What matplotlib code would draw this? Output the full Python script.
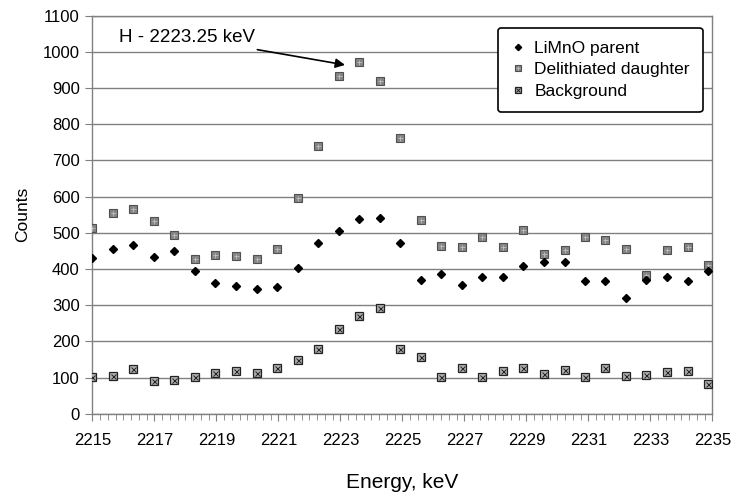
import numpy as np
import matplotlib
matplotlib.use('Agg')
import matplotlib.pyplot as plt
from matplotlib.ticker import MultipleLocator
from matplotlib.legend_handler import HandlerTuple

plt.rcParams['font.family'] = ['Liberation Sans', 'DejaVu Sans']

# channel energies (keV)
energy = [2215.00, 2215.66, 2216.32, 2216.99, 2217.65, 2218.31, 2218.97, 2219.63,
          2220.30, 2220.96, 2221.62, 2222.28, 2222.94, 2223.61, 2224.27, 2224.93,
          2225.59, 2226.25, 2226.92, 2227.58, 2228.24, 2228.90, 2229.56, 2230.23,
          2230.89, 2231.55, 2232.21, 2232.87, 2233.54, 2234.20, 2234.86]

parent = [430, 455, 465, 432, 450, 394, 361, 353, 344, 351, 404, 472, 506, 539, 542, 472,
          370, 387, 357, 378, 377, 408, 420, 419, 366, 366, 320, 369, 377, 367, 394]

daughter = [512, 555, 565, 533, 495, 428, 438, 437, 428, 455, 596, 740, 933, 972, 919, 761,
            535, 464, 462, 487, 462, 508, 441, 452, 489, 480, 455, 382, 452, 462, 412]

background = [102, 104, 123, 91, 93, 101, 113, 119, 113, 125, 149, 179, 235, 271, 293, 178,
              158, 102, 127, 102, 118, 127, 110, 121, 102, 127, 105, 107, 116, 119, 81]

xticks = [2215, 2217, 2219, 2221, 2223, 2225, 2227, 2229, 2231, 2233, 2235]

fig = plt.figure(figsize=(7.38, 4.97), dpi=100)
ax = fig.add_axes([0.1251, 0.1676, 0.8403, 0.8008])

h1, = ax.plot(energy, parent, ls='none', marker='D', ms=4.0, color='black', zorder=4)
d_sq, = ax.plot(energy, daughter, ls='none', marker='s', ms=5.2, mfc='#858585',
                mec='#505050', mew=0.8, zorder=3)
d_x, = ax.plot(energy, daughter, ls='none', marker='+', ms=3.6, mec='#c0c0c0', mew=0.6, zorder=3)
b_sq, = ax.plot(energy, background, ls='none', marker='s', ms=5.2, mfc='#b0b0b0',
                mec='#222222', mew=0.9, zorder=3)
b_x, = ax.plot(energy, background, ls='none', marker='x', ms=3.6, mec='#222222', mew=0.7, zorder=3)

ax.set_xlim(2215, 2235)
ax.set_ylim(0, 1100)
ax.set_xticks(xticks)
ax.xaxis.set_minor_locator(MultipleLocator(0.25))
ax.yaxis.set_major_locator(MultipleLocator(100))

ax.yaxis.grid(True, color='#808080', lw=1)
ax.set_axisbelow(True)
for s in ax.spines.values():
    s.set_color('#808080')
    s.set_linewidth(1)

ax.tick_params(axis='both', which='both', direction='out', color='#808080', labelsize=12)
ax.tick_params(axis='x', which='major', length=5, pad=9)
ax.tick_params(axis='x', which='minor', length=4)
ax.tick_params(axis='y', length=5, pad=4)

ax.set_xlabel('Energy, keV', fontsize=15, labelpad=18)
ax.set_ylabel('Counts', fontsize=12.5, labelpad=9)

ax.annotate('H - 2223.25 keV', xy=(2223.15, 964), xytext=(2220.25, 1040),
            fontsize=13.5, ha='right', va='center',
            arrowprops=dict(arrowstyle='-|>', color='black', lw=1.2,
                            mutation_scale=14, shrinkA=4, shrinkB=0))

leg = ax.legend([h1, (d_sq, d_x), (b_sq, b_x)],
                ['LiMnO parent', 'Delithiated daughter', 'Background'],
                handler_map={tuple: HandlerTuple(ndivide=1)},
                loc='upper right', bbox_to_anchor=(0.9985, 0.992),
                fontsize=12.5, frameon=True, fancybox=True, framealpha=1,
                edgecolor='black', handlelength=0.8, handletextpad=0.55,
                labelspacing=0.38, borderpad=0.75, markerscale=0.8)
leg.get_frame().set_linewidth(1.2)

fig.savefig('out.png', dpi=100)
